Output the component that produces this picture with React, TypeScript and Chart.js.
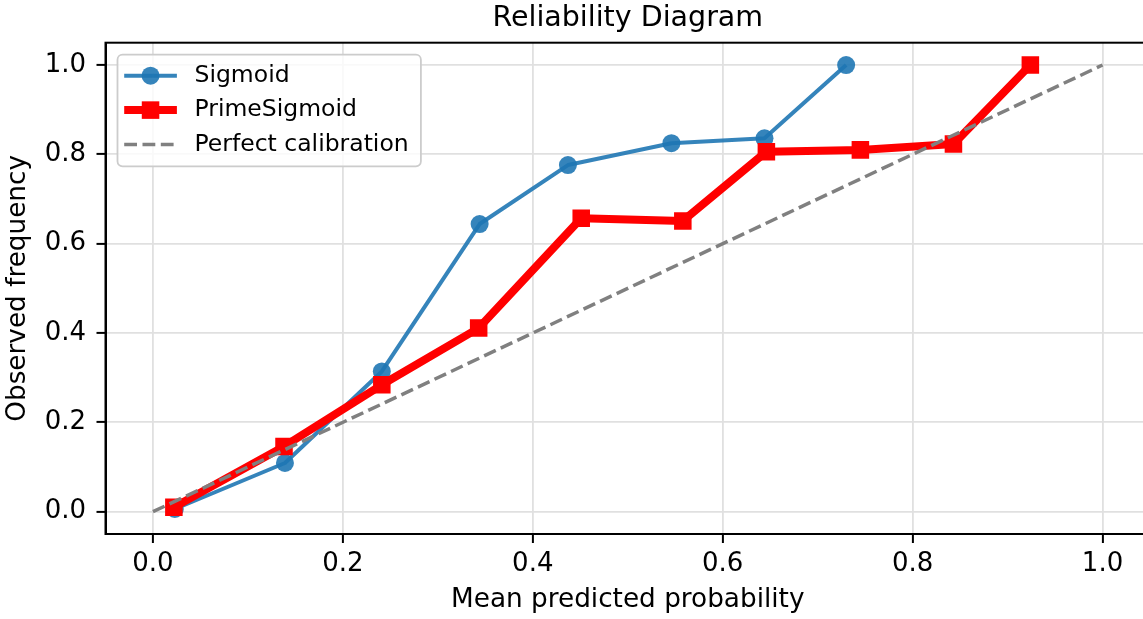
import React, { useEffect, useRef } from "react";
import { Chart, registerables } from "chart.js";

Chart.register(...registerables);

const FONT = "'DejaVu Sans', sans-serif";

const seriesLabels = ["Sigmoid", "PrimeSigmoid", "Perfect calibration"];
const sigmoidX = [0.023, 0.139, 0.241, 0.344, 0.437, 0.546, 0.644, 0.73];
const sigmoidY = [0.006, 0.109, 0.314, 0.644, 0.776, 0.825, 0.836, 1.0];
const primeX = [0.022, 0.138, 0.241, 0.343, 0.451, 0.558, 0.646, 0.745, 0.843, 0.924];
const primeY = [0.01, 0.146, 0.284, 0.411, 0.657, 0.651, 0.806, 0.81, 0.823, 1.0];
const perfectX = [0, 1];
const perfectY = [0, 1];
const xTicks = [0, 0.2, 0.4, 0.6, 0.8, 1.0];
const yTicks = [0, 0.2, 0.4, 0.6, 0.8, 1.0];

const BLUE = "rgba(31,119,180,0.9)";
const RED = "#ff0000";
const GRAY = "#808080";

const framePlugin = {
  id: "frame",
  afterDatasetsDraw(chart: any) {
    const { ctx, chartArea: a } = chart;
    ctx.save();
    ctx.strokeStyle = "#000";
    ctx.lineWidth = 2;
    ctx.strokeRect(a.left, a.top, a.right - a.left, a.bottom - a.top);
    ctx.restore();
  },
};

const legendPlugin = {
  id: "mplLegend",
  afterDatasetsDraw(chart: any) {
    const { ctx, chartArea: a } = chart;
    const x0 = a.left + 12;
    const y0 = a.top + 12;
    const w = 303.4;
    const h = 111.6;
    const r = 5;
    ctx.save();
    ctx.beginPath();
    ctx.moveTo(x0 + r, y0);
    ctx.lineTo(x0 + w - r, y0);
    ctx.arcTo(x0 + w, y0, x0 + w, y0 + r, r);
    ctx.lineTo(x0 + w, y0 + h - r);
    ctx.arcTo(x0 + w, y0 + h, x0 + w - r, y0 + h, r);
    ctx.lineTo(x0 + r, y0 + h);
    ctx.arcTo(x0, y0 + h, x0, y0 + h - r, r);
    ctx.lineTo(x0, y0 + r);
    ctx.arcTo(x0, y0, x0 + r, y0, r);
    ctx.closePath();
    ctx.fillStyle = "rgba(255,255,255,0.8)";
    ctx.fill();
    ctx.strokeStyle = "#cccccc";
    ctx.lineWidth = 1.8;
    ctx.stroke();

    chart.data.datasets.forEach((ds: any, i: number) => {
      const cy = y0 + 21 + i * 34.4;
      const hx0 = x0 + 6.7;
      const hx1 = x0 + 59.4;
      ctx.save();
      ctx.strokeStyle = ds.borderColor;
      ctx.lineWidth = ds.borderWidth;
      ctx.setLineDash(ds.borderDash || []);
      ctx.beginPath();
      ctx.moveTo(hx0, cy);
      ctx.lineTo(hx1, cy);
      ctx.stroke();
      ctx.restore();
      const mx = (hx0 + hx1) / 2;
      if (ds.pointRadius > 0) {
        ctx.fillStyle = ds.pointBackgroundColor;
        if (ds.pointStyle === "rect") {
          const s = ds.pointRadius * Math.SQRT1_2;
          ctx.fillRect(mx - s, cy - s, 2 * s, 2 * s);
        } else {
          ctx.beginPath();
          ctx.arc(mx, cy, ds.pointRadius, 0, Math.PI * 2);
          ctx.fill();
        }
      }
      ctx.fillStyle = "#000";
      ctx.font = `23.5px ${FONT}`;
      ctx.textBaseline = "middle";
      ctx.textAlign = "left";
      ctx.fillText(ds.label, x0 + 77, cy);
    });
    ctx.restore();
  },
};

function toPoints(xs: number[], ys: number[]) {
  return xs.map((x, i) => ({ x, y: ys[i] }));
}

export default function App() {
  const ref = useRef<HTMLCanvasElement | null>(null);

  useEffect(() => {
    if (!ref.current) return;
    const tickFont = { family: FONT, size: 26 };
    const chart = new Chart(ref.current, {
      type: "line",
      data: {
        datasets: [
          {
            label: seriesLabels[0],
            data: toPoints(sigmoidX, sigmoidY),
            borderColor: BLUE,
            backgroundColor: BLUE,
            borderWidth: 4,
            pointRadius: 9,
            pointStyle: "circle",
            pointBorderWidth: 0,
            pointBackgroundColor: BLUE,
            borderJoinStyle: "round",
            order: 3,
          },
          {
            label: seriesLabels[1],
            data: toPoints(primeX, primeY),
            borderColor: RED,
            backgroundColor: RED,
            borderWidth: 8,
            pointRadius: 12.4,
            pointStyle: "rect",
            pointBorderWidth: 0,
            pointBackgroundColor: RED,
            borderJoinStyle: "round",
            order: 2,
          },
          {
            label: seriesLabels[2],
            data: toPoints(perfectX, perfectY),
            borderColor: GRAY,
            backgroundColor: GRAY,
            borderWidth: 3.5,
            borderDash: [12.8, 5.5],
            pointRadius: 0,
            pointBackgroundColor: GRAY,
            order: 1,
          },
        ] as any,
      },
      options: {
        responsive: false,
        animation: false,
        layout: { padding: 0, autoPadding: false },
        scales: {
          x: {
            type: "linear",
            min: -0.05,
            max: 1.05,
            afterBuildTicks: (s: any) => {
              s.ticks = xTicks.map((v) => ({ value: v }));
            },
            afterFit: (s: any) => {
              s.height = 85;
              s.paddingLeft = 0;
              s.paddingRight = 0;
            },
            ticks: {
              callback: (v: any) => Number(v).toFixed(1),
              font: tickFont,
              color: "#000",
              padding: 6,
              maxRotation: 0,
              autoSkip: false,
            },
            grid: {
              color: "#e0e0e0",
              lineWidth: 1.8,
              tickColor: "#000",
              tickWidth: 2,
              tickLength: 9,
            },
            border: { color: "#000", width: 2 },
            title: {
              display: true,
              text: "Mean predicted probability",
              font: { family: FONT, size: 26.3 },
              color: "#000",
              padding: { top: 0, bottom: 3.4 },
            },
          },
          y: {
            type: "linear",
            min: -0.05,
            max: 1.05,
            afterBuildTicks: (s: any) => {
              s.ticks = yTicks.map((v) => ({ value: v }));
            },
            afterFit: (s: any) => {
              s.width = 105.5;
              s.paddingTop = 0;
              s.paddingBottom = 0;
            },
            ticks: {
              callback: (v: any) => Number(v).toFixed(1),
              font: tickFont,
              color: "#000",
              padding: 10.5,
              autoSkip: false,
            },
            grid: {
              color: "#e0e0e0",
              lineWidth: 1.8,
              tickColor: "#000",
              tickWidth: 2,
              tickLength: 9,
            },
            border: { color: "#000", width: 2 },
            title: {
              display: true,
              text: "Observed frequency",
              font: { family: FONT, size: 26.3 },
              color: "#000",
              padding: { top: 2, bottom: 0 },
            },
          },
        },
        plugins: {
          legend: { display: false },
          tooltip: { enabled: false },
          title: {
            display: true,
            fullSize: false,
            text: "Reliability Diagram",
            font: { family: FONT, size: 28.5, weight: "normal" },
            color: "#000",
            padding: { top: 1, bottom: 7.5 },
          },
        },
      } as any,
      plugins: [framePlugin, legendPlugin],
    });
    return () => chart.destroy();
  }, []);

  return (
    <div
      style={{
        position: "fixed",
        left: 0,
        top: 0,
        width: 1143,
        height: 619,
        overflow: "hidden",
        background: "#fff",
      }}
    >
      <canvas ref={ref} width={1150} height={619} style={{ display: "block" }} />
    </div>
  );
}
